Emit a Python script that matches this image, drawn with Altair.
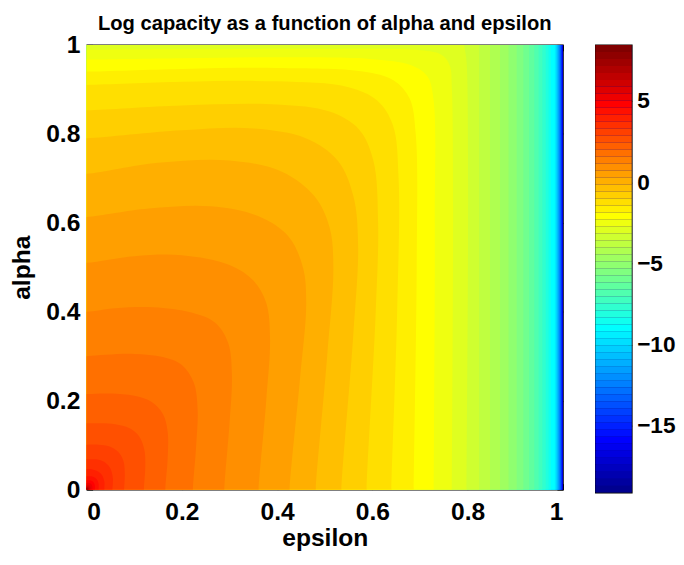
import altair as alt
import pandas as pd

TITLE = "Log capacity as a function of alpha and epsilon"
X_TITLE = "epsilon"
Y_TITLE = "alpha"
AXIS_TICKS = [0, 0.2, 0.4, 0.6, 0.8, 1]
CB_TICKS = [-15, -10, -5, 0, 5]
V_MIN, V_MAX = -19.1, 8.45   # colour axis limits
N_COLORS = 64

# Straight (vertical) contour lines near epsilon = 1: band index j -> epsilon
VERT_J = list(range(1, 37))
VERT_EPS = [0.9999, 0.9998, 0.9997, 0.9995, 0.9993, 0.999, 0.9987, 0.9983, 0.9979,
            0.9974, 0.9968, 0.9962, 0.9955, 0.9947, 0.9938, 0.9928, 0.9917, 0.9905,
            0.9893, 0.988, 0.9865, 0.985, 0.983, 0.975, 0.970, 0.964, 0.957, 0.949,
            0.940, 0.929, 0.917, 0.903, 0.886, 0.868, 0.847, 0.824]

# Curved contour lines: band index j -> (epsilon, alpha) points, bottom edge -> left/top edge
CURVES = {
    37: [(0.798, 0), (0.798, 0.96), (0.793, 1.0)],
    38: [(0.767, 0), (0.767, 0.9), (0.762, 0.955), (0.745, 0.978), (0.70, 0.988), (0.5, 0.991), (0.2, 0.99), (0, 0.989)],
    39: [(0.729, 0), (0.731, 0.6), (0.728, 0.88), (0.715, 0.93), (0.68, 0.955), (0.6, 0.968), (0.4, 0.972), (0.2, 0.97), (0, 0.967)],
    40: [(0.687, 0), (0.693, 0.5), (0.691, 0.8), (0.678, 0.88), (0.645, 0.92), (0.58, 0.94), (0.4, 0.948), (0.2, 0.946), (0, 0.94)],
    41: [(0.640, 0), (0.652, 0.4), (0.655, 0.7), (0.643, 0.82), (0.61, 0.875), (0.55, 0.905), (0.4, 0.918), (0.2, 0.917), (0, 0.91)],
    42: [(0.588, 0), (0.607, 0.4), (0.612, 0.6), (0.602, 0.74), (0.572, 0.81), (0.51, 0.85), (0.4, 0.866), (0.2, 0.864), (0, 0.853)],
    43: [(0.535, 0), (0.56, 0.35), (0.57, 0.55), (0.56, 0.66), (0.527, 0.74), (0.46, 0.79), (0.35, 0.812), (0.2, 0.808), (0, 0.79)],
    44: [(0.481, 0), (0.505, 0.3), (0.518, 0.5), (0.51, 0.59), (0.478, 0.66), (0.41, 0.715), (0.3, 0.74), (0.15, 0.735), (0, 0.71)],
    45: [(0.426, 0), (0.448, 0.25), (0.461, 0.42), (0.454, 0.5), (0.423, 0.57), (0.36, 0.615), (0.26, 0.637), (0.13, 0.632), (0, 0.613)],
    46: [(0.361, 0), (0.377, 0.2), (0.385, 0.34), (0.377, 0.42), (0.35, 0.47), (0.30, 0.505), (0.2, 0.527), (0.1, 0.525), (0, 0.51)],
    47: [(0.289, 0), (0.30, 0.15), (0.305, 0.26), (0.297, 0.33), (0.27, 0.375), (0.22, 0.398), (0.14, 0.41), (0.06, 0.408), (0, 0.40)],
    48: [(0.223, 0), (0.23, 0.1), (0.233, 0.18), (0.225, 0.24), (0.20, 0.28), (0.16, 0.298), (0.1, 0.305), (0.04, 0.303), (0, 0.30)],
    49: [(0.165, 0), (0.17, 0.07), (0.17, 0.13), (0.16, 0.17), (0.135, 0.198), (0.1, 0.211), (0.05, 0.216), (0, 0.215)],
    50: [(0.12, 0), (0.123, 0.05), (0.121, 0.09), (0.11, 0.12), (0.09, 0.138), (0.06, 0.147), (0.03, 0.149), (0, 0.149)],
    51: [(0.0785, 0), (0.08, 0.035), (0.077, 0.065), (0.066, 0.085), (0.048, 0.097), (0.025, 0.101), (0, 0.101)],
    52: [(0.054, 0), (0.055, 0.025), (0.05, 0.047), (0.04, 0.06), (0.025, 0.067), (0, 0.068)],
    53: [(0.037, 0), (0.037, 0.018), (0.032, 0.033), (0.022, 0.042), (0.01, 0.046), (0, 0.046)],
    54: [(0.025, 0), (0.025, 0.013), (0.021, 0.023), (0.013, 0.029), (0, 0.030)],
    55: [(0.017, 0), (0.017, 0.01), (0.013, 0.018), (0.007, 0.021), (0, 0.021)],
    56: [(0.012, 0), (0.012, 0.007), (0.009, 0.013), (0.005, 0.015), (0, 0.015)],
    57: [(0.008, 0), (0.008, 0.005), (0.006, 0.009), (0.003, 0.011), (0, 0.011)],
    58: [(0.006, 0), (0.006, 0.004), (0.0045, 0.007), (0, 0.008)],
    59: [(0.0045, 0), (0.0045, 0.003), (0.003, 0.005), (0, 0.006)],
    60: [(0.0035, 0), (0.0035, 0.002), (0.002, 0.004), (0, 0.0045)],
    61: [(0.0025, 0), (0.0022, 0.002), (0, 0.0033)],
    62: [(0.0018, 0), (0.0015, 0.0015), (0, 0.0024)],
    63: [(0.0012, 0), (0.001, 0.001), (0, 0.0016)],
}


def jet(j):
    if j < 8:
        r, g, b = 0.0, 0.0, 0.5625 + 0.0625 * j
    elif j < 24:
        r, g, b = 0.0, 0.0625 * (j - 7), 1.0
    elif j < 40:
        r, g, b = 0.0625 * (j - 23), 1.0, 1.0 - 0.0625 * (j - 23)
    elif j < 56:
        r, g, b = 1.0, 1.0 - 0.0625 * (j - 39), 0.0
    else:
        r, g, b = 1.0 - 0.0625 * (j - 55), 0.0, 0.0
    return "#%02x%02x%02x" % (round(r * 255), round(g * 255), round(b * 255))


JET = [jet(j) for j in range(N_COLORS)]

# polygons: region where the value is above each contour level, closed just outside the frame
OUT = 0.03
curves = {j: [(e, 0), (e, 1)] for j, e in zip(VERT_J, VERT_EPS)}
curves.update(CURVES)
rows = []
for j in sorted(curves):
    c = list(curves[j])
    pts = [(-OUT, -OUT), (c[0][0], -OUT)] + c
    if c[-1][1] >= 1.0:
        pts += [(c[-1][0], 1 + OUT), (-OUT, 1 + OUT)]
    else:
        pts += [(-OUT, c[-1][1])]
    for i, (e, a) in enumerate(pts):
        rows.append({"j": j, "idx": i, "eps": e, "alpha": a})
poly = pd.DataFrame(rows)

FONT = "Liberation Sans"

xs = alt.Scale(domain=[0, 1], nice=False, zero=False)
ys = alt.Scale(domain=[0, 1], nice=False, zero=False)

fills = alt.Chart(poly).mark_line(filled=True, strokeWidth=0, interpolate="catmull-rom", clip=True).encode(
    x=alt.X("eps:Q", scale=xs, title=X_TITLE,
            axis=alt.Axis(values=AXIS_TICKS, format="~g", offset=-6, tickSize=6,
                          domain=False, labelPadding=10, titlePadding=2)),
    y=alt.Y("alpha:Q", scale=ys, title=Y_TITLE,
            axis=alt.Axis(values=AXIS_TICKS, format="~g", offset=-6, tickSize=6,
                          domain=False, labelPadding=7, titlePadding=11)),
    color=alt.Color("j:O", scale=alt.Scale(domain=list(range(N_COLORS)), range=JET), legend=None),
    order=alt.Order("idx:Q"),
)

ticks_tr = alt.Chart(poly).mark_point(opacity=0, clip=True).encode(
    x=alt.X("eps:Q", scale=xs, title=None,
            axis=alt.Axis(orient="top", values=AXIS_TICKS, labels=False, offset=-6,
                          tickSize=6, domain=False)),
    y=alt.Y("alpha:Q", scale=ys, title=None,
            axis=alt.Axis(orient="right", values=AXIS_TICKS, labels=False, offset=-6,
                          tickSize=6, domain=False)),
)

main = alt.layer(fills, ticks_tr).resolve_axis(x="independent", y="independent").properties(
    width=484, height=452,
    title=alt.Title(TITLE, fontSize=20.5, font=FONT, fontWeight="bold", offset=-1.5,
                    frame="group", anchor="middle", color="black"),
)

cb_df = pd.DataFrame({"j": list(range(N_COLORS))})
cb_df["lo"] = V_MIN + cb_df["j"] * (V_MAX - V_MIN) / N_COLORS
cb_df["hi"] = V_MIN + (cb_df["j"] + 1) * (V_MAX - V_MIN) / N_COLORS
cb_df["x0"] = 0.0
cb_df["x1"] = 1.0
cbs = alt.Scale(domain=[V_MIN, V_MAX], nice=False, zero=False)
cbx = alt.Scale(domain=[0, 1], nice=False, zero=False)

cb_rects = alt.Chart(cb_df).mark_rect().encode(
    x=alt.X("x0:Q", scale=cbx, axis=None), x2="x1:Q",
    y=alt.Y("lo:Q", scale=cbs, title=None,
            axis=alt.Axis(orient="right", values=CB_TICKS, format="~g", offset=-4, tickSize=4,
                          domain=False, labelPadding=5, labelFontSize=23)),
    y2="hi:Q",
    color=alt.Color("j:O", scale=alt.Scale(domain=list(range(N_COLORS)), range=JET), legend=None),
)
cb_ticks = alt.Chart(cb_df).mark_point(opacity=0).encode(
    x=alt.X("x0:Q", scale=cbx, axis=None),
    y=alt.Y("lo:Q", scale=cbs, title=None,
            axis=alt.Axis(orient="left", values=CB_TICKS, labels=False, offset=-4, tickSize=4,
                          domain=False)),
)
cbar = alt.layer(cb_rects, cb_ticks).resolve_axis(y="independent").properties(width=37, height=455)

chart = alt.hconcat(main, cbar, spacing=33, bounds="flush").properties(
    padding={"left": 1, "top": 1, "right": 0, "bottom": 0}
).configure_view(stroke="black", strokeWidth=1.2, fill="#000090").configure_axis(
    grid=False, labelFont=FONT, labelFontWeight="bold", labelFontSize=25, labelColor="black",
    titleFont=FONT, titleFontWeight="bold", titleFontSize=25, titleColor="black",
    tickColor="black", tickWidth=1,
)

chart.save("out.html", embed_options={"renderer": "svg", "actions": False})
